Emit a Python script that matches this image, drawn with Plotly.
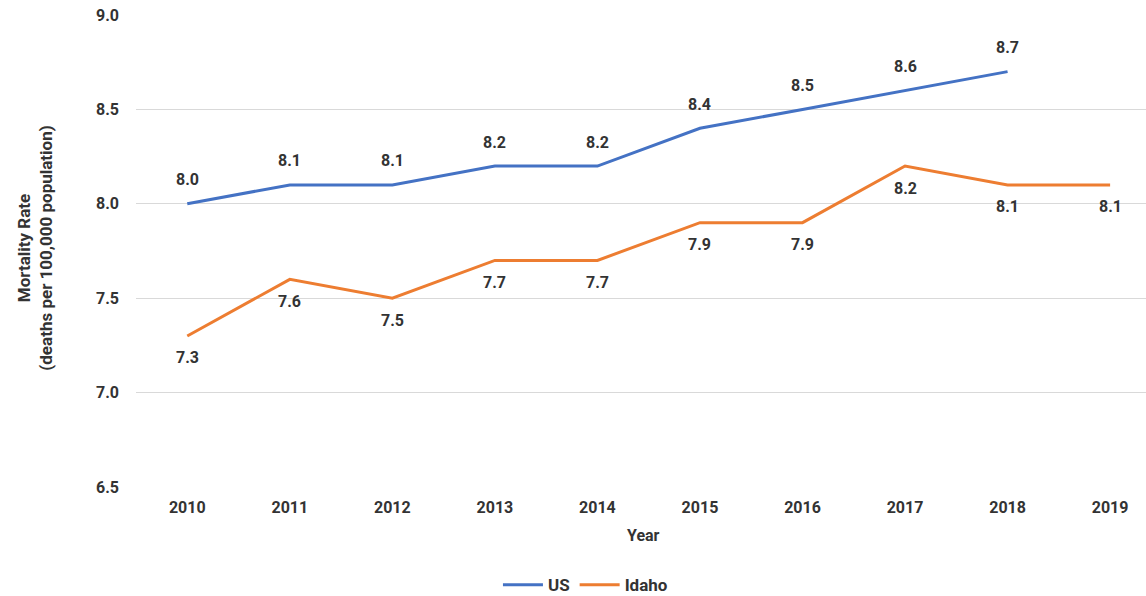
import plotly.graph_objects as go

years = [2010, 2011, 2012, 2013, 2014, 2015, 2016, 2017, 2018, 2019]
us_rate = [8.0, 8.1, 8.1, 8.2, 8.2, 8.4, 8.5, 8.6, 8.7, None]
idaho_rate = [7.3, 7.6, 7.5, 7.7, 7.7, 7.9, 7.9, 8.2, 8.1, 8.1]
y_ticks = [6.5, 7.0, 7.5, 8.0, 8.5, 9.0]

BLUE = "#4472C4"
ORANGE = "#ED7D31"
TEXT = "#333333"
FONT = "Roboto"

fig = go.Figure()
fig.add_trace(go.Scatter(x=years, y=us_rate, mode="lines", name="US",
                         line=dict(color=BLUE, width=3)))
fig.add_trace(go.Scatter(x=years, y=idaho_rate, mode="lines", name="Idaho",
                         line=dict(color=ORANGE, width=3)))

annotations = []
for x, v in zip(years, us_rate):
    if v is not None:
        annotations.append(dict(x=x, y=v, text=f"{v:.1f}", showarrow=False,
                                yshift=24, font=dict(size=16, color=TEXT, family=FONT, weight="bold")))
for x, v in zip(years, idaho_rate):
    annotations.append(dict(x=x, y=v, text=f"{v:.1f}", showarrow=False,
                            yshift=-22, font=dict(size=16, color=TEXT, family=FONT, weight="bold")))

annotations.append(dict(xref="paper", yref="paper", x=0.502, y=-0.102, yanchor="middle",
                        text="Year", showarrow=False,
                        font=dict(size=16, color=TEXT, family=FONT, weight="bold")))
annotations.append(dict(xref="paper", yref="paper", x=-0.1, y=0.505, xanchor="center",
                        yanchor="middle", textangle=-90,
                        text="Mortality Rate<br>(deaths per 100,000 population)", showarrow=False,
                        font=dict(size=17, color=TEXT, family=FONT, weight="bold")))

fig.update_layout(
    width=1146, height=596,
    margin=dict(l=136, r=0, t=15, b=109, autoexpand=False),
    paper_bgcolor="white", plot_bgcolor="white",
    font=dict(family=FONT, color=TEXT),
    showlegend=True,
    legend=dict(orientation="h", x=0.445, xanchor="center",
                yref="container", y=0.018, yanchor="middle",
                font=dict(size=17, color=TEXT, family=FONT, weight="bold"),
                itemwidth=40, tracegroupgap=0),
    annotations=annotations,
    xaxis=dict(range=[2009.5, 2019.35], tickmode="array", tickvals=years,
               ticktext=[str(y) for y in years], showgrid=False, zeroline=False,
               showline=False, ticks="", ticklabelstandoff=9,
               tickfont=dict(size=16, color=TEXT, family=FONT, weight="bold")),
    yaxis=dict(range=[6.5, 9.0], tickmode="array", tickvals=y_ticks,
               ticktext=[f"{t:.1f}" for t in y_ticks], showgrid=True,
               gridcolor="#D9D9D9", gridwidth=1, zeroline=False, showline=False,
               ticks="", ticklabelstandoff=16,
               tickfont=dict(size=16, color=TEXT, family=FONT, weight="bold")),
)

fig.write_html("out.html")
